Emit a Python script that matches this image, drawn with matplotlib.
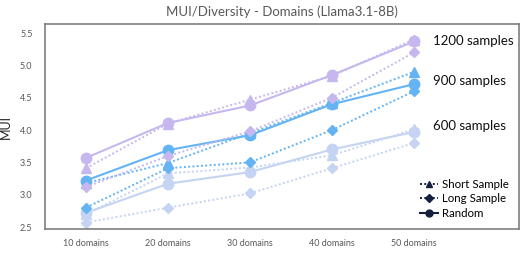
import matplotlib.pyplot as plt
from matplotlib.lines import Line2D

plt.rcParams['font.family'] = ['Lato', 'DejaVu Sans']

domains = ['10 domains', '20 domains', '30 domains', '40 domains', '50 domains']

mui_1200_random = [3.57, 4.11, 4.38, 4.85, 5.37]
mui_1200_short = [3.41, 4.10, 4.47, 4.84, 5.40]
mui_1200_long = [3.12, 3.60, 3.98, 4.50, 5.20]

mui_900_random = [3.22, 3.69, 3.92, 4.40, 4.71]
mui_900_short = [3.18, 3.49, 3.95, 4.42, 4.90]
mui_900_long = [2.80, 3.41, 3.50, 4.00, 4.60]

mui_600_random = [2.72, 3.17, 3.35, 3.70, 3.97]
mui_600_short = [2.70, 3.33, 3.42, 3.61, 4.01]
mui_600_long = [2.57, 2.80, 3.02, 3.41, 3.80]

c1200 = '#c6b8ef'
c900 = '#64b4f4'
c600 = '#c4d4f2'
grey = '#595959'
dark = '#14203d'

fig = plt.figure(figsize=(5.21, 2.61), dpi=100)
ax = fig.add_axes([0.0864, 0.1226, 0.9096, 0.7854])

x = list(range(len(domains)))

groups = [
    (c600, mui_600_random, mui_600_short, mui_600_long),
    (c900, mui_900_random, mui_900_short, mui_900_long),
    (c1200, mui_1200_random, mui_1200_short, mui_1200_long),
]
for col, rnd, short, long_ in groups:
    ax.plot(x, long_, color=col, ls=(0, (1, 1.2)), lw=1.4, marker='D', ms=5.5)
    ax.plot(x, short, color=col, ls=(0, (1, 1.2)), lw=1.4, marker='^', ms=7)
    ax.plot(x, rnd, color=col, ls='-', lw=1.5, marker='o', ms=7.5)

ax.set_xlim(-0.5, 5.28)
ax.set_ylim(2.47, 5.64)
ax.set_xticks(x)
ax.set_xticklabels(domains)
ax.set_yticks([2.5, 3.0, 3.5, 4.0, 4.5, 5.0, 5.5])
ax.tick_params(axis='y', length=0, labelsize=6.5, labelcolor=grey, pad=9)
ax.tick_params(axis='x', length=0, labelsize=6.5, labelcolor=grey, pad=7)
for s in ax.spines.values():
    s.set_color('#7f7f7f')
    s.set_linewidth(1.2)

ax.set_ylabel('MUI', fontsize=9, color='#222222', labelpad=6)
ax.set_title('MUI/Diversity - Domains (Llama3.1-8B)', fontsize=9.5, color=grey, pad=6)

ax.text(4.23, 5.37, '1200 samples', fontsize=9.5, color='#111111', va='center')
ax.text(4.23, 4.76, '900 samples', fontsize=9.5, color='#111111', va='center')
ax.text(4.23, 4.07, '600 samples', fontsize=9.5, color='#111111', va='center')

handles = [
    Line2D([], [], color=dark, ls=(0, (1, 1.2)), lw=1.4, marker='^', ms=5),
    Line2D([], [], color=dark, ls=(0, (1, 1.2)), lw=1.4, marker='D', ms=4),
    Line2D([], [], color=dark, ls='-', lw=1.5, marker='o', ms=5),
]
ax.legend(handles, ['Short Sample', 'Long Sample', 'Random'], loc='lower right',
          frameon=False, fontsize=8.3, handlelength=1.6, handletextpad=0.3,
          labelspacing=0.3, bbox_to_anchor=(1.0, 0.0))

fig.savefig('out.png', dpi=100)
